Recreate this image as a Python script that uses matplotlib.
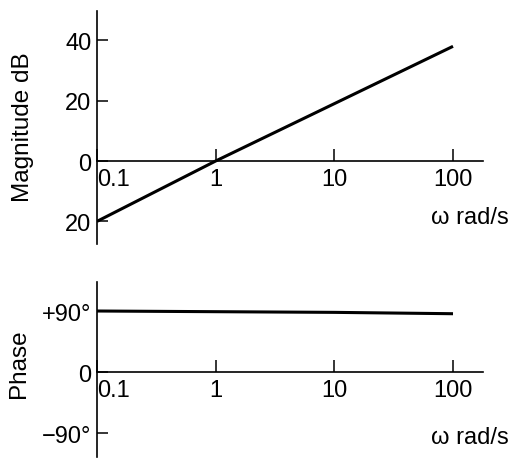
import matplotlib
matplotlib.use("Agg")
import matplotlib.pyplot as plt

plt.rcParams['font.family'] = ['Liberation Sans', 'DejaVu Sans']

# Data
freq = [0.1, 1, 10, 100]
magnitude_db = [-20, 0, 19, 38]
phase_deg = [90, 89, 88, 86]
x_ticks = [0.1, 1, 10, 100]
x_tick_labels = ["0.1", "1", "10", "100"]
mag_ticks = [-20, 20, 40]
mag_tick_labels = ["20", "20", "40"]
phase_ticks = [-90, 90]
phase_tick_labels = ["\u221290\u00b0", "+90\u00b0"]

W, H = 516, 460
fig = plt.figure(figsize=(W / 100, H / 100), dpi=100)

left = 97 / W
right = 483 / W
ax1 = fig.add_axes([left, 1 - 245 / H, right - left, (245 - 12) / H])
ax2 = fig.add_axes([left, 1 - 458 / H, right - left, (458 - 283) / H])

fs = 17
for ax in (ax1, ax2):
    ax.set_xscale('log')
    ax.set_xlim(0.1, 10 ** (2 + 30 / 118.7))
    ax.spines['top'].set_visible(False)
    ax.spines['right'].set_visible(False)
    ax.spines['bottom'].set_position(('data', 0))
    ax.spines['left'].set_linewidth(1.2)
    ax.spines['bottom'].set_linewidth(1.2)
    ax.set_xticks(x_ticks)
    ax.set_xticklabels(x_tick_labels, fontsize=fs)
    ax.xaxis.set_minor_locator(matplotlib.ticker.NullLocator())
    ax.tick_params(axis='x', direction='in', length=9, width=1.1, pad=5)
    ax.tick_params(axis='y', direction='in', length=8, width=1.1, pad=4, labelsize=fs)
    ax.get_xticklabels()[0].set_horizontalalignment('left')
    ax.patch.set_visible(False)

# Magnitude
ax1.set_ylim(-27.5, 49.7)
ax1.set_yticks(mag_ticks + [0])
ax1.set_yticklabels(mag_tick_labels + ["0"])
ax1.plot(freq, magnitude_db, color='black', lw=2.2, solid_capstyle='butt')

# Phase
ax2.set_ylim(-125.4, 132.8)
ax2.set_yticks(phase_ticks + [0])
ax2.set_yticklabels(phase_tick_labels + ["0"])
ax2.plot(freq, phase_deg, color='black', lw=2.2, solid_capstyle='butt')

fig.text(23 / W, 1 - 127 / H, "Magnitude dB", rotation=90, ha='center', va='center', fontsize=fs + 0.5)
fig.text(19 / W, 1 - 364 / H, "Phase", rotation=90, ha='center', va='center', fontsize=fs + 0.5)
fig.text(509 / W, 1 - 218 / H, "\u03c9 rad/s", ha='right', va='center', fontsize=fs)
fig.text(509 / W, 1 - 438 / H, "\u03c9 rad/s", ha='right', va='center', fontsize=fs)

fig.savefig("out.png", dpi=100, facecolor='white')
